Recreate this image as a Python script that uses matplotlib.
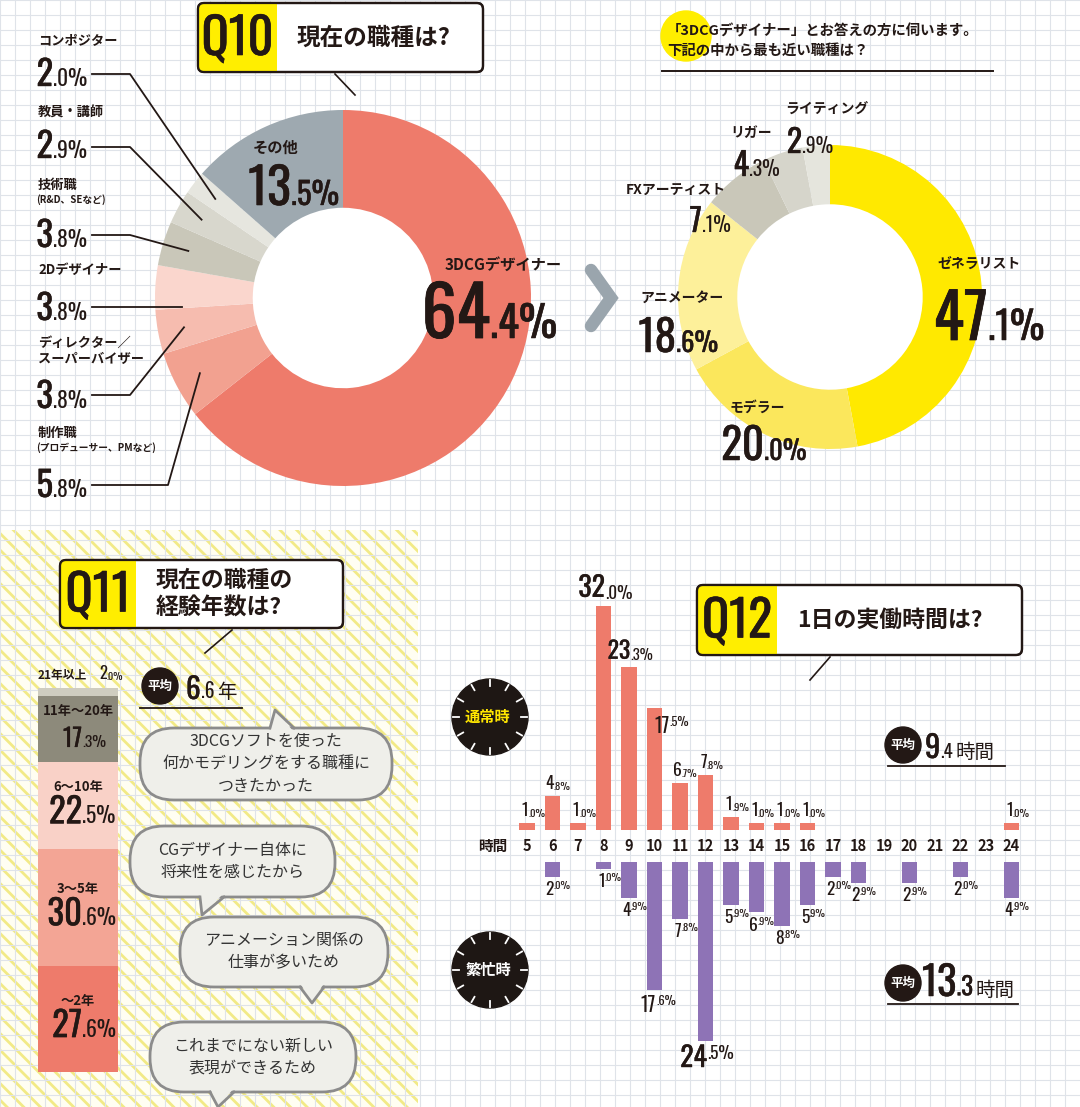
import os
import numpy as np
import matplotlib
matplotlib.use('Agg')
import matplotlib.pyplot as plt
import matplotlib.patheffects as pe
from matplotlib import font_manager
from matplotlib.font_manager import FontProperties
from matplotlib.patches import Circle, Rectangle, FancyBboxPatch, Polygon
from matplotlib.transforms import offset_copy
from matplotlib.textpath import TextToPath

# ---------------- data ----------------
q10_labels = ['3DCGデザイナー', '制作職', 'ディレクター／\nスーパーバイザー', '2Dデザイナー',
              '技術職', '教員・講師', 'コンポジター', 'その他']
q10_values = [64.4, 5.8, 3.8, 3.8, 3.8, 2.9, 2.0, 13.5]

sub_labels = ['ゼネラリスト', 'モデラー', 'アニメーター', 'FXアーティスト', 'リガー', 'ライティング']
sub_values = [47.1, 20.0, 18.6, 7.1, 4.3, 2.9]

q11_labels = ['〜2年', '3〜5年', '6〜10年', '11年〜20年', '21年以上']
q11_values = [27.6, 30.6, 22.5, 17.3, 2.0]
q11_mean = 6.6

hours = list(range(5, 25))
normal = [1.0, 4.8, 1.0, 32.0, 23.3, 17.5, 6.7, 7.8, 1.9, 1.0, 1.0, 1.0, 0, 0, 0, 0, 0, 0, 0, 1.0]
busy = [0, 2.0, 0, 1.0, 4.9, 17.6, 7.8, 24.5, 5.9, 6.9, 8.8, 5.9, 2.0, 2.9, 0, 2.9, 0, 2.0, 0, 4.9]
normal_mean = 9.4
busy_mean = 13.3

reasons = ['3DCGソフトを使った\n何かモデリングをする職種に\nつきたかった',
           'CGデザイナー自体に\n将来性を感じたから',
           'アニメーション関係の\n仕事が多いため',
           'これまでにない新しい\n表現ができるため']

# ---------------- style ----------------
INK = '#231815'
YEL = '#FFEE00'
q10_colors = ['#EE7B6B', '#F2A190', '#F6BCAF', '#FAD6CD', '#C9C7B9', '#D8D7CD', '#E6E6DF', '#9EA9B0']
sub_colors = ['#FFE900', '#FBE75C', '#FDF09A', '#C9C7B9', '#D6D5CB', '#E5E5DD']
q11_colors = ['#EE7B6B', '#F3A595', '#F9D1C7', '#8D8A7B', '#CFCDC0']
UP_C = '#EE7B6B'
DN_C = '#8E73B6'
plt.rcParams['hatch.linewidth'] = 2.0


def find_num_font():
    # a condensed face for the big numbers, whichever is installed
    paths = {os.path.basename(f.fname).lower(): f.fname for f in font_manager.fontManager.ttflist}
    for key in ['oswald[', 'oswald-medium', 'oswald-regular', 'antonio', 'texgyreheroscn-bold',
                'robotocondensed-bold', 'liberationsansnarrow-bold', 'notosans-condensedbold']:
        for b, p in sorted(paths.items()):
            if b.startswith(key):
                return FontProperties(fname=p)
    return FontProperties(family='DejaVu Sans', weight='bold')


NUMF = find_num_font()
JPB = FontProperties(family=['Noto Sans CJK JP', 'DejaVu Sans'], weight='bold')
JPR = FontProperties(family=['Noto Sans CJK JP', 'DejaVu Sans'], weight='regular')

_t2p = TextToPath()


def desc(prop):
    p = prop.copy()
    p.set_size(100)
    return _t2p.get_text_width_height_descent('lp', p, ismath=False)[2] / 100


def heavy(size, color=INK):
    # thicken the larger condensed numerals a touch
    if size < 16:
        return None
    return [pe.withStroke(linewidth=0.012 * size, foreground=color)]


W, H = 1080, 1107
fig = plt.figure(figsize=(W / 100, H / 100), dpi=100)
fig.patch.set_facecolor('white')


def px_axes(x, y, w, h):
    return fig.add_axes([x / W, 1 - (y + h) / H, w / W, h / H])


def pct_text(ax, x, y, v, size, ratio=0.62, color=INK, transform=None, va='baseline'):
    # integer part ends at the anchor, decimal part starts there
    s = f'{v:.1f}%'
    a, b = s.split('.')
    tr = transform if transform is not None else ax.transData
    ax.text(x, y, a, ha='right', va=va, fontproperties=NUMF, size=size, color=color, transform=tr,
            path_effects=heavy(size, color))
    ax.text(x, y, '.' + b, ha='left', va=va, fontproperties=NUMF, size=size * ratio, color=color,
            transform=tr, path_effects=heavy(size * ratio, color))


def chain(ax, x, y, pieces, color=INK, zorder=5):
    # pieces: (text, fontprops, size, gap in points) laid out left to right on one baseline
    txt, fp, sz, _ = pieces[0]
    prev = ax.text(x, y, txt, ha='left', va='baseline', fontproperties=fp, size=sz, color=color,
                   zorder=zorder, path_effects=heavy(sz, color) if fp is NUMF else None)
    prev_d = desc(fp) * sz
    for txt, fp, sz, gap in pieces[1:]:
        prev = ax.annotate(txt, xy=(1, 0), xycoords=prev, xytext=(gap, prev_d),
                           textcoords='offset points', ha='left', va='baseline',
                           fontproperties=fp, size=sz, color=color, zorder=zorder,
                           path_effects=heavy(sz, color) if fp is NUMF else None)
        prev_d = desc(fp) * sz
    return prev


# background layer (pixel coords)
bg = px_axes(0, 0, W, H)
bg.set_xlim(0, W)
bg.set_ylim(H, 0)
bg.axis('off')
bg.add_patch(Rectangle((0, 530), 418, H - 530, facecolor='#FFFEF2', edgecolor='#F2EA86',
                       hatch='\\\\', linewidth=0, zorder=0))
for gx in np.arange(0, W, 15):
    bg.plot([gx, gx], [0, H], color='#DFE3E9', lw=0.8, zorder=1)
for gy in np.arange(0, H, 15):
    bg.plot([0, W], [gy, gy], color='#DFE3E9', lw=0.8, zorder=1)

# ---------------- Q10 donut ----------------
C10, R10 = (343, 298), 188
ax10 = px_axes(C10[0] - R10, C10[1] - R10, 2 * R10, 2 * R10)
w10, _ = ax10.pie(q10_values, colors=q10_colors, startangle=90, counterclock=False,
                  wedgeprops=dict(width=0.52, linewidth=0))
ax10.add_patch(Circle((0, 0), 0.48, color='white', zorder=0))
ax10.set_xlim(-1, 1)
ax10.set_ylim(-1, 1)

# ---------------- sub donut ----------------
C2, R2 = (830, 297), 152
ax2 = px_axes(C2[0] - R2, C2[1] - R2, 2 * R2, 2 * R2)
ax2.pie(sub_values, colors=sub_colors, startangle=90, counterclock=False,
        wedgeprops=dict(width=0.39, linewidth=0))
ax2.add_patch(Circle((0, 0), 0.61, color='white', zorder=0))
ax2.set_xlim(-1, 1)
ax2.set_ylim(-1, 1)

# ---------------- Q11 stacked bar ----------------
ax11 = px_axes(38, 688, 80, 384)
cum = np.concatenate([[0], np.cumsum(q11_values)[:-1]])
ax11.bar(0, q11_values, bottom=cum, width=1, color=q11_colors, linewidth=0)
ax11.set_xlim(-0.5, 0.5)
ax11.set_ylim(0, 100)
ax11.axis('off')
name_tr = offset_copy(ax11.transData, fig, y=13, units='points')
pct_tr = offset_copy(ax11.transData, fig, y=-13, units='points')
for lab, v, b in zip(q11_labels[:-1], q11_values[:-1], cum[:-1]):
    mid = b + v / 2
    ax11.text(0, mid, lab, ha='center', va='center', fontproperties=JPB, size=9.5, color=INK,
              transform=name_tr)
    sz = 25 if v > 20 else 18
    pct_text(ax11, 0.05, mid, v, sz, transform=pct_tr)
top_tr = offset_copy(ax11.transData, fig, y=4, units='points')
ax11.text(-0.5, 100, q11_labels[-1], ha='left', va='bottom', fontproperties=JPB, size=8.5,
          color=INK, transform=top_tr)
pct_text(ax11, 0.36, 100, q11_values[-1], 12, transform=top_tr, va='bottom')

# ---------------- Q12 bars ----------------
STEP, X5 = 25.5, 527
AX_L, AX_W = 508, 524
xl = (hours[0] - (X5 - AX_L) / STEP, hours[0] + (AX_L + AX_W - X5) / STEP)
ax_up = px_axes(AX_L, 570, AX_W, 260)
ax_up.bar(hours, normal, width=0.6, color=UP_C, linewidth=0)
ax_up.set_xlim(*xl)
ax_up.set_ylim(0, 260 / 7.0)
ax_up.axis('off')
ax_dn = px_axes(AX_L, 862, AX_W, 240)
ax_dn.bar(hours, busy, width=0.6, color=DN_C, linewidth=0)
ax_dn.set_xlim(*xl)
ax_dn.set_ylim(240 / 7.3, 0)
ax_dn.axis('off')


def lab_size(v):
    if v >= 24:
        return 20
    if v >= 20:
        return 17
    if v >= 10:
        return 14.5
    return 12.5


hour_tr = offset_copy(ax_up.transData, fig, y=-11.5, units='points')
for h, vu, vd in zip(hours, normal, busy):
    ax_up.text(h, 0, str(h), ha='center', va='center', fontproperties=JPB, size=10.5,
               color=INK, transform=hour_tr)
    if vu > 0:
        dx, dy = (11, -6) if h == 10 else (1, 3)
        tr = offset_copy(ax_up.transData, fig, x=dx, y=dy, units='points')
        pct_text(ax_up, h, vu, vu, lab_size(vu), transform=tr, va='bottom' if h != 10 else 'top')
    if vd > 0:
        tr = offset_copy(ax_dn.transData, fig, x=1, y=-3, units='points')
        pct_text(ax_dn, h, vd, vd, lab_size(vd), transform=tr, va='top')

# ---------------- foreground layer ----------------
fg = px_axes(0, 0, W, H)
fg.set_xlim(0, W)
fg.set_ylim(H, 0)
fg.axis('off')
fg.patch.set_alpha(0)


def title_box(x, y, w, h, yw, qtxt, ttxt, tsize):
    box = FancyBboxPatch((x, y), w, h, boxstyle='round,pad=0,rounding_size=6',
                         facecolor='white', edgecolor=INK, linewidth=1.6, zorder=5)
    fg.add_patch(box)
    yr = Rectangle((x, y), yw, h, facecolor=YEL, linewidth=0, zorder=5.5)
    fg.add_patch(yr)
    yr.set_clip_path(box)
    fg.add_patch(FancyBboxPatch((x, y), w, h, boxstyle='round,pad=0,rounding_size=6',
                                facecolor='none', edgecolor=INK, linewidth=1.6, zorder=6))
    fg.text(x + yw / 2, y + h / 2 + 2, qtxt, ha='center', va='center', fontproperties=NUMF,
            size=36, color=INK, zorder=7, path_effects=heavy(36))
    fg.text(x + yw + 20, y + h / 2, ttxt, ha='left', va='center', fontproperties=JPB,
            size=tsize, color=INK, linespacing=1.25, zorder=7)


title_box(198, 3, 285, 69, 79, 'Q10', '現在の職種は?', 17)
fg.plot([335, 355], [74, 95], color=INK, lw=1.2)
title_box(60, 560, 283, 68, 76, 'Q11', '現在の職種の\n経験年数は?', 16.5)
fg.plot([232, 205], [630, 653], color=INK, lw=1.2)
title_box(697, 585, 325, 70, 80, 'Q12', '1日の実働時間は?', 16.5)
fg.plot([830, 810], [657, 680], color=INK, lw=1.2)


def to_fg(ax, pt):
    return fg.transData.inverted().transform(ax.transData.transform(pt))


# Q10 labels
fg.text(276, 148, q10_labels[7], ha='center', va='center', fontproperties=JPB, size=11, color=INK)
pct_text(fg, 291, 205, q10_values[7], 36)
fg.text(503, 265, q10_labels[0], ha='center', va='center', fontproperties=JPB, size=11, color=INK)
pct_text(fg, 490, 338, q10_values[0], 50)

left_items = [  # index, name y, sub text, pct baseline, line y, elbow x
    (6, 40, None, 86, 74, 130),
    (5, 112, None, 158, 147, 130),
    (4, 185, '(R&D、SEなど)', 247, 235, 130),
    (3, 270, None, 320, 307, None),
    (2, 351, None, 408, 395, 130),
    (1, 433, '(プロデューサー、PMなど)', 497, 485, 168),
]
for idx, ny, sub, py, ly, ex in left_items:
    fg.text(38, ny, q10_labels[idx], ha='left', va='center', fontproperties=JPB, size=9.5,
            color=INK, linespacing=1.2)
    if sub:
        fg.text(36, ny + 15, sub, ha='left', va='center', fontproperties=JPB, size=7, color=INK)
    pct_text(fg, 53, py, q10_values[idx], 25)
    w = w10[idx]
    ang = np.deg2rad((w.theta1 + w.theta2) / 2)
    end = to_fg(ax10, (0.86 * np.cos(ang), 0.86 * np.sin(ang)))
    pts = [(92, ly)] + ([(ex, ly)] if ex else []) + [(end[0], end[1] if ex else ly)]
    xs, ys = zip(*pts)
    fg.plot(xs, ys, color=INK, lw=1.3, zorder=8)

# sub donut header
bg.add_patch(Circle((686, 36), 25, color=YEL, zorder=2))
fg.text(667, 41, '「3DCGデザイナー」とお答えの方に伺います。\n下記の中から最も近い職種は？',
        ha='left', va='center', fontproperties=JPB, size=10.4, color=INK, linespacing=1.4)
fg.plot([662, 993], [71, 71], color=INK, lw=1.4)
fg.plot([591, 611, 591], [270, 298, 326], color='#9AA5AD', lw=9, solid_capstyle='round',
        solid_joinstyle='miter')

sub_items = [  # name x, name y, ha, pct anchor x, pct baseline, pct size
    (937, 265, 'left', 988, 340, 45),
    (730, 408, 'left', 764, 460, 31),
    (640, 298, 'left', 676, 352, 31),
    (726, 190, 'right', 702, 232, 23),
    (730, 133, 'left', 749, 176, 23),
    (785, 110, 'left', 802, 153, 23),
]
for lab, v, (nx, ny, ha, ax_, py, sz) in zip(sub_labels, sub_values, sub_items):
    fg.text(nx, ny, lab, ha=ha, va='center', fontproperties=JPB, size=10, color=INK)
    pct_text(fg, ax_, py, v, sz)

# Q11 mean + bubbles
fg.add_patch(Circle((160, 686), 18, color=INK))
fg.text(160, 686, '平均', ha='center', va='center', fontproperties=JPB, size=9, color='white')
ms = f'{q11_mean:.1f}'.split('.')
chain(fg, 186, 699, [(ms[0], NUMF, 21, 0), ('.' + ms[1], NUMF, 14, 0), ('年', JPR, 14, 2)])
fg.plot([140, 242], [708, 708], color=INK, lw=1.3)

bubbles = [  # x, y, w, h, tail base x, tail tip (x, y)
    (140, 728, 252, 72, 270, (275, 710)),
    (130, 826, 205, 71, 200, (202, 915)),
    (180, 917, 208, 70, 300, (312, 1003)),
    (150, 1022, 206, 70, 210, (218, 1107)),
]
for text, (bx, by, bw, bh, tx, tip) in zip(reasons, bubbles):
    fg.add_patch(FancyBboxPatch((bx, by), bw, bh, boxstyle='round,pad=0,rounding_size=34',
                                facecolor='#EFEFEA', edgecolor='#8C8C8C', linewidth=2, zorder=3))
    edge_y = by if tip[1] < by else by + bh
    inner = 4 if tip[1] < by else -4
    fg.add_patch(Polygon([(tx, edge_y + inner), (tx + 24, edge_y + inner), tip],
                         facecolor='#EFEFEA', linewidth=0, zorder=3.5))
    fg.plot([tx, tip[0], tx + 24], [edge_y, tip[1], edge_y], color='#8C8C8C', lw=2, zorder=3.6)
    fg.text(bx + bw / 2, by + bh / 2, text, ha='center', va='center', fontproperties=JPR,
            size=11.5, color='#333333', linespacing=1.4, zorder=4)

# Q12 badges
for (cx, cy), lab, tc in [((490, 717), '通常時', '#FFE600'), ((490, 970), '繁忙時', 'white')]:
    fg.add_patch(Circle((cx, cy), 38, color='#1E1714'))
    for a in np.deg2rad(np.arange(0, 360, 30)):
        fg.plot([cx + 31 * np.cos(a), cx + 37 * np.cos(a)], [cy + 31 * np.sin(a), cy + 37 * np.sin(a)],
                color='white', lw=1.3)
    fg.text(cx - 2, cy, lab, ha='center', va='center', fontproperties=JPB, size=11, color=tc)

fg.text(493, 846, '時間', ha='center', va='center', fontproperties=JPB, size=10.5, color=INK)

for (cy, val, nx, ux, s1) in [(745, normal_mean, 925, 1005, 22), (983, busy_mean, 922, 1018, 29)]:
    fg.add_patch(Circle((903, cy), 18, color=INK))
    fg.text(903, cy, '平均', ha='center', va='center', fontproperties=JPB, size=9, color='white')
    s = f'{val:.1f}'.split('.')
    chain(fg, nx, cy + 13, [(s[0], NUMF, s1, 0), ('.' + s[1], NUMF, s1 * 0.62, 0),
                            ('時間', JPR, 14, 2)])
    fg.plot([888, ux], [cy + 21, cy + 21], color=INK, lw=1.3)

fig.savefig('out.png', dpi=100)
